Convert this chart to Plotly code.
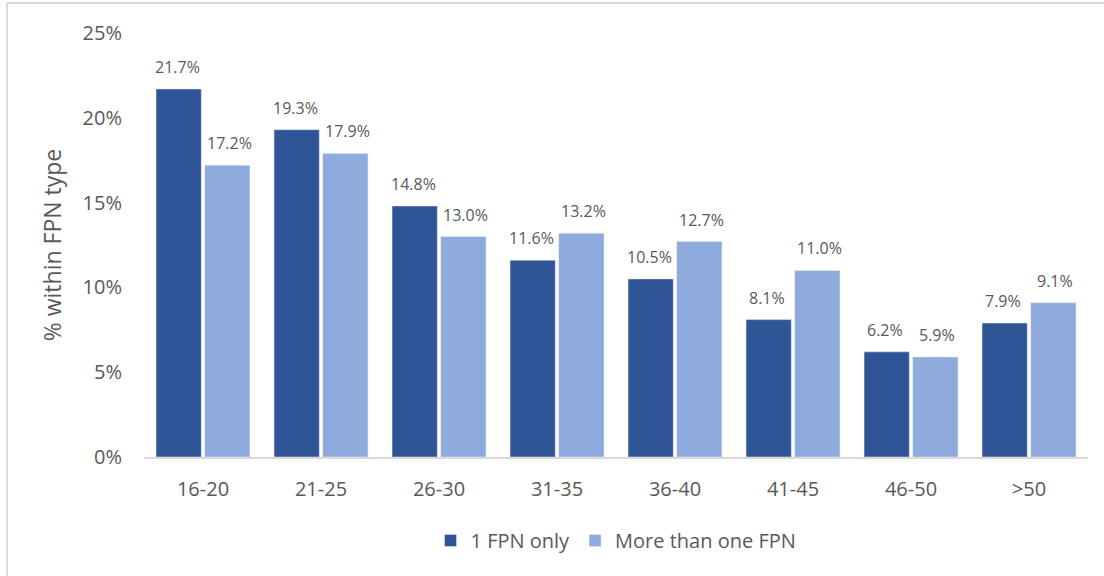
import plotly.graph_objects as go

categories = ["16-20", "21-25", "26-30", "31-35", "36-40", "41-45", "46-50", ">50"]
one_fpn = [21.7, 19.3, 14.8, 11.6, 10.5, 8.1, 6.2, 7.9]
more_fpn = [17.2, 17.9, 13.0, 13.2, 12.7, 11.0, 5.9, 9.1]
series_names = ["1 FPN only", "More than one FPN"]
y_ticks = [0, 5, 10, 15, 20, 25]
y_tick_labels = ["0%", "5%", "10%", "15%", "20%", "25%"]

DARK = "#2F5597"
LIGHT = "#8FAADC"
GREY = "#595959"
FONT = "Open Sans, Noto Sans, sans-serif"

fig = go.Figure()
fig.add_trace(go.Bar(x=categories, y=one_fpn, name=series_names[0], marker_color=DARK))
fig.add_trace(go.Bar(x=categories, y=more_fpn, name=series_names[1], marker_color=LIGHT))

annotations = []
for vals, shift in ((one_fpn, -26), (more_fpn, 26)):
    for c, v in zip(categories, vals):
        annotations.append(dict(x=c, y=v, text=f"{v:.1f}%", showarrow=False,
                                xshift=shift, yshift=22, yanchor="middle",
                                font=dict(size=16, color=GREY, family=FONT)))

L, R, T, B = 144, 16, 33, 119
W, H = 1104, 576
pw, ph = W - L - R, H - T - B
shapes = [
    dict(type="line", xref="paper", yref="paper", x0=(7 - L) / pw, x1=(W + 5 - L) / pw,
         y0=1 + (T - 3) / ph, y1=1 + (T - 3) / ph, line=dict(color="#D9D9D9", width=2)),
    dict(type="line", xref="paper", yref="paper", x0=(7 - L) / pw, x1=(7 - L) / pw,
         y0=1 + (T - 3) / ph, y1=-(B + 5) / ph, line=dict(color="#D9D9D9", width=2)),
]

fig.update_layout(
    width=W, height=H,
    margin=dict(l=L, r=R, t=T, b=B),
    paper_bgcolor="white", plot_bgcolor="white",
    font=dict(family=FONT, color=GREY),
    barmode="group", bargap=0.175, bargroupgap=0.07,
    annotations=annotations, shapes=shapes,
    legend=dict(orientation="h", x=0.5, xanchor="center", y=-0.197, yanchor="middle",
                font=dict(size=20, color=GREY), traceorder="normal", itemwidth=30),
    xaxis=dict(showgrid=False, showline=True, linecolor="#D9D9D9", linewidth=2,
               tickfont=dict(size=20, color=GREY), ticks="", ticklabelstandoff=13),
    yaxis=dict(range=[0, 25], tickvals=y_ticks, ticktext=y_tick_labels, showgrid=False,
               zeroline=False, showline=False, tickfont=dict(size=20, color=GREY),
               ticklabelstandoff=21,
               title=dict(text="% within FPN type", font=dict(size=23, color=GREY), standoff=14)),
)

fig.write_html("out.html", config={"displayModeBar": False},
               post_script="document.body.style.margin='0';")
